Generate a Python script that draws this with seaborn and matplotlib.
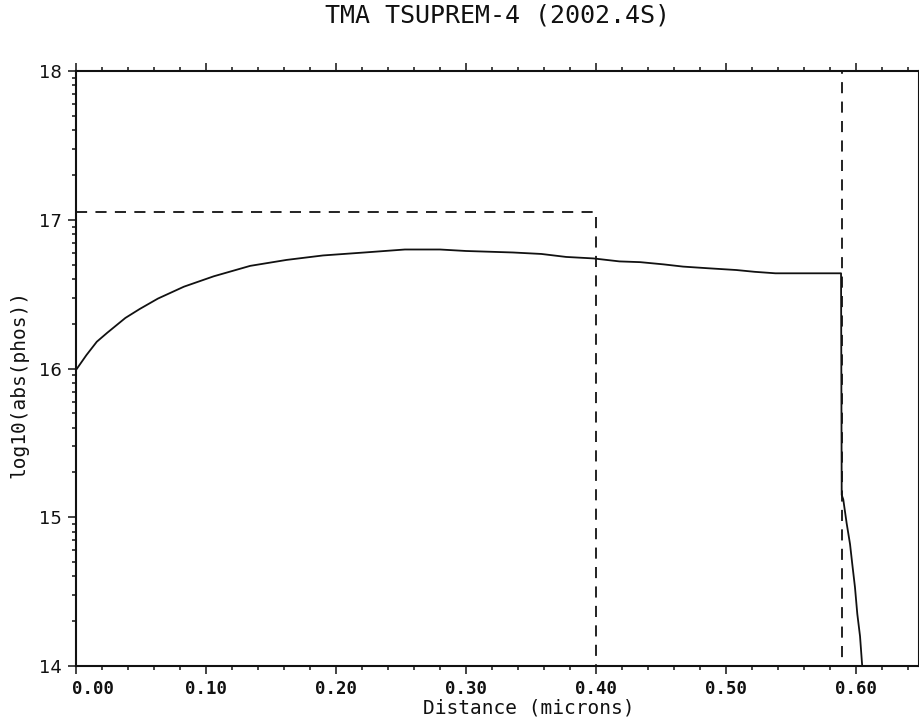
import numpy as np
import pandas as pd
import matplotlib
matplotlib.use("Agg")
import matplotlib.pyplot as plt
import matplotlib.transforms as mtransforms
from matplotlib.ticker import FixedLocator, FixedFormatter
import seaborn as sns

# ---------------- data ----------------
title = "TMA TSUPREM-4 (2002.4S)"
x_label = "Distance (microns)"
y_label = "log10(abs(phos))"

depth = [0.000, 0.008, 0.016, 0.024, 0.038, 0.049, 0.063, 0.083, 0.106, 0.134,
         0.162, 0.190, 0.222, 0.253, 0.280, 0.300, 0.336, 0.358, 0.377, 0.398,
         0.418, 0.434, 0.452, 0.467, 0.486, 0.508, 0.522, 0.538, 0.560, 0.5885,
         0.5890, 0.5902, 0.5928, 0.5954, 0.5972, 0.5992, 0.6010, 0.6031, 0.6046,
         0.6055]
log_conc = [15.99, 16.09, 16.18, 16.24, 16.34, 16.40, 16.47, 16.55, 16.62, 16.69,
            16.73, 16.76, 16.78, 16.80, 16.80, 16.79, 16.78, 16.77, 16.75, 16.74,
            16.72, 16.715, 16.70, 16.685, 16.674, 16.662, 16.65, 16.64, 16.64, 16.64,
            15.15, 15.12, 14.96, 14.82, 14.68, 14.53, 14.35, 14.20, 14.02,
            13.93]

window_x = [0.0, 0.40, 0.40]
window_y = [17.055, 17.055, 14.0]
junction_x = [0.5895, 0.5895]
junction_y = [18.0, 14.0]

x_ticks = [0.0, 0.1, 0.2, 0.3, 0.4, 0.5, 0.6]
x_tick_labels = ["0.00", "0.10", "0.20", "0.30", "0.40", "0.50", "0.60"]
y_ticks = [14, 15, 16, 17, 18]
y_tick_labels = ["14", "15", "16", "17", "18"]

# ---------------- style ----------------
sns.set_style("ticks")
plt.rcParams["font.family"] = ["DejaVu Sans Mono", "DejaVu Sans"]
plt.rcParams["lines.scale_dashes"] = False

W, H = 920, 721
fig = plt.figure(figsize=(W / 100, H / 100), dpi=100)
L, R, T, B = 76, 919, 71, 666
ax = fig.add_axes([L / W, 1 - B / H, (R - L) / W, (B - T) / H])

ink = "#111111"
profile = pd.DataFrame({"depth": depth, "log_conc": log_conc})
sns.lineplot(data=profile, x="depth", y="log_conc", ax=ax, estimator=None,
             sort=False, color=ink, lw=1.3)
sns.lineplot(x=window_x, y=window_y, ax=ax, estimator=None, sort=False,
             color=ink, lw=1.3, linestyle=(0, (8, 6)))
sns.lineplot(x=junction_x, y=junction_y, ax=ax, estimator=None, sort=False,
             color=ink, lw=1.3, linestyle=(6, (8, 6)))

ax.set_xlim(0.0, (R - L) / 1300)
ax.set_ylim(14, 18)

ax.xaxis.set_major_locator(FixedLocator(x_ticks))
ax.xaxis.set_major_formatter(FixedFormatter(x_tick_labels))
x_minor = [round(0.02 * i, 2) for i in range(0, 33) if i % 5 != 0]
ax.xaxis.set_minor_locator(FixedLocator(x_minor))
ax.yaxis.set_major_locator(FixedLocator(y_ticks))
ax.yaxis.set_major_formatter(FixedFormatter(y_tick_labels))
y_minor = [d + np.log10(m) for d in range(14, 18) for m in range(2, 10)]
ax.yaxis.set_minor_locator(FixedLocator(y_minor))

ax.tick_params(which="both", direction="out", top=True, bottom=True, left=True,
               right=False, labeltop=False, width=1.1, color=ink, pad=4.3)
ax.tick_params(which="major", length=5.8)
ax.tick_params(which="minor", length=3.2)

for lbl in ax.get_xticklabels():
    lbl.set_fontfamily("DejaVu Sans Mono")
    lbl.set_fontweight("bold")
    lbl.set_fontsize(12.5)
    lbl.set_color(ink)
for lbl in ax.get_yticklabels():
    lbl.set_fontfamily("DejaVu Sans")
    lbl.set_fontsize(13)
    lbl.set_color(ink)

first = ax.get_xticklabels()[0]
first.set_horizontalalignment("left")
first.set_transform(first.get_transform() +
                    mtransforms.ScaledTranslation(-4 / 100, 0, fig.dpi_scale_trans))

for sp in ax.spines.values():
    sp.set_visible(True)
    sp.set_linewidth(1.5)
    sp.set_color(ink)

ax.set_xlabel(x_label, fontsize=14, color=ink)
ax.set_ylabel(y_label, fontsize=14, color=ink)
ax.xaxis.set_label_coords((529 - L) / (R - L), (B - 698) / (B - T))
ax.yaxis.set_label_coords((28 - L) / (R - L), (B - 384) / (B - T))

ax.set_title(title, fontsize=18, color=ink, y=(B - 24) / (B - T), va="center")
ax.grid(False)

fig.savefig("out.png", dpi=100)
